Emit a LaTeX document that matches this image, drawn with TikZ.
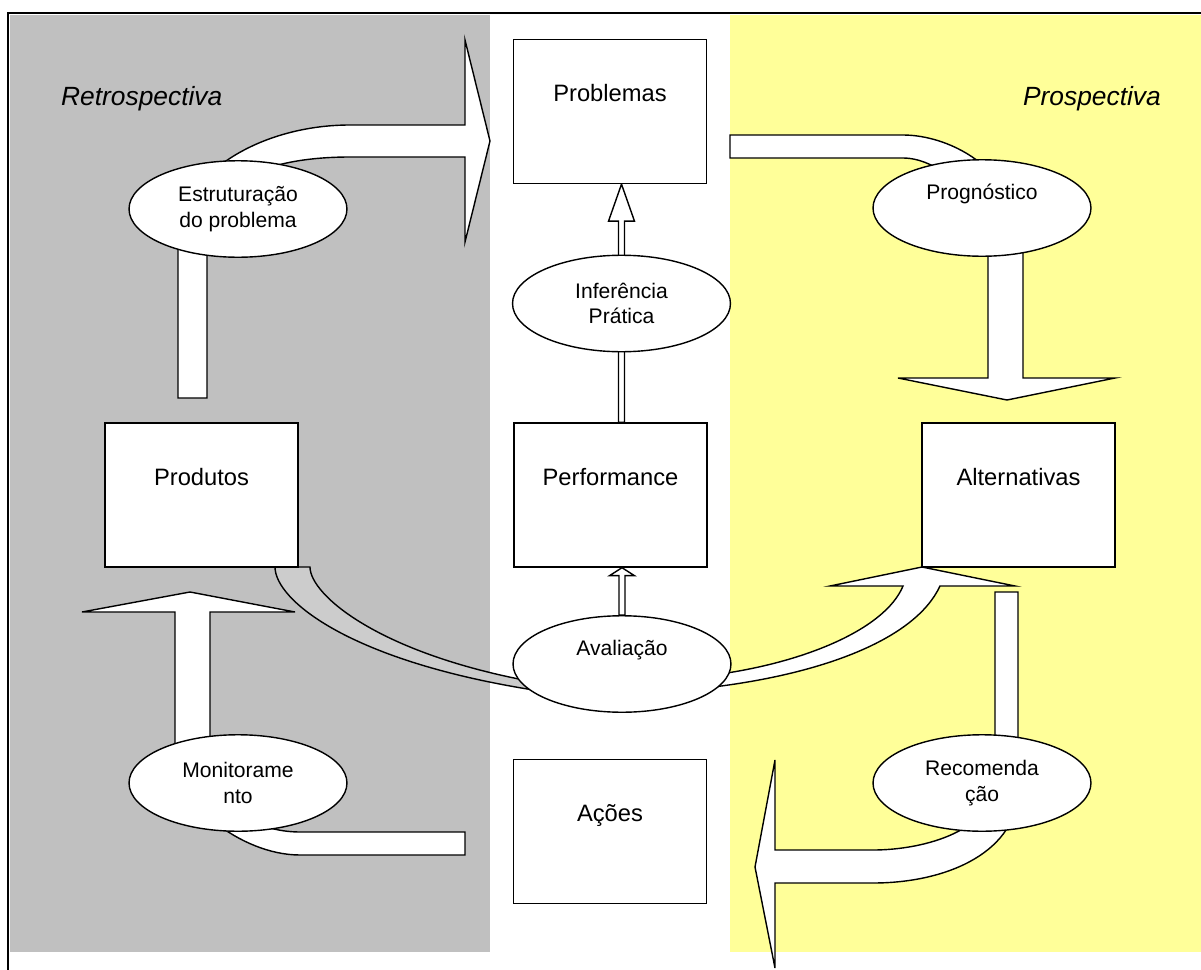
\documentclass[tikz,border=0pt]{standalone}
\usepackage{fontspec}
\setmainfont{Liberation Sans}
\usetikzlibrary{shapes.geometric,calc}
\definecolor{retro}{RGB}{192,192,192}
\definecolor{prosp}{RGB}{255,255,153}
\definecolor{tail}{RGB}{204,204,204}
\pgfdeclarelayer{bg}
\pgfdeclarelayer{flows}
\pgfsetlayers{bg,flows,main}
\tikzset{
  box/.style={draw,fill=white,line width=0.8pt,minimum width=3.86cm,minimum height=2.88cm,
    inner sep=0pt,align=center,font=\fontsize{13.5}{16.2}\selectfont},
  proc/.style={ellipse,draw,fill=white,line width=0.8pt,minimum width=4.36cm,minimum height=1.93cm,
    inner sep=0pt,align=center,font=\fontsize{12}{14.4}\selectfont},
  side/.style={font=\fontsize{15}{18}\selectfont\itshape},
  block/.style={draw,fill=#1,line width=0.8pt,line join=miter},
  block/.default=white,
}
% thin up arrow: from #1 to #2, head length #3, head half width #4
\newcommand{\upflow}[4]{%
  \draw[block] ($(#1)+(-3,0)$) -- ($(#2)+(-3,#3)$) -- ($(#2)+(-#4,#3)$) -- (#2)
    -- ($(#2)+(#4,#3)$) -- ($(#2)+(3,#3)$) -- ($(#1)+(3,0)$) -- cycle;}

\begin{document}
\begin{tikzpicture}[x=0.02cm,y=-0.02cm]
  \useasboundingbox (0,0) rectangle (1201,970);
  \begin{pgfonlayer}{bg}
    \fill[retro] (10,15) rectangle (490,952);
    \fill[prosp] (730,15) rectangle (1201,952);
    \draw[line width=1.1pt] (8,970) -- (8,13) -- (1201,13);
  \end{pgfonlayer}

  \node[side,anchor=west] (retro) at (55,99) {Retrospectiva};
  \node[side,anchor=east] (prosp) at (1167,99) {Prospectiva};

  % boxes
  \node[box] (prob) at (610,111.5) {Problemas\\\strut};
  \node[box] (prod) at (201.5,495) {Produtos\\\strut};
  \node[box] (perf) at (610.5,495) {Performance\\\strut};
  \node[box] (alt) at (1018.5,495) {Alternativas\\\strut};
  \node[box] (acoes) at (610,831.5) {Ações\\\strut};

  % processes
  \node[proc] (estr) at (238,209) {Estruturação\\do problema};
  \node[proc] (prog) at (982,208) {Prognóstico\\\strut};
  \node[proc] (infer) at (621.5,303.5) {Inferência\\Prática};
  \node[proc] (aval) at (622,664) {Avaliação\\\strut};
  \node[proc] (moni) at (238,783) {Monitorame\\nto};
  \node[proc] (reco) at (982,783) {Recomenda\\ção};

  \coordinate (ptop) at (infer.center |- prob.south);
  \coordinate (pbot) at (infer.center |- perf.north);
  \coordinate (qtop) at (aval.center |- perf.south);

  \begin{pgfonlayer}{flows}
    \upflow{pbot}{ptop}{37}{13}
    \upflow{aval.north}{qtop}{8}{12.5}
    % estruturacao -> problemas
    \draw[block] (178,398) -- (178,240) .. controls (178,175) and (260,125) .. (350,125)
      -- (465,125) -- (465,40) -- (490,141) -- (465,242) -- (465,157) -- (350,157)
      .. controls (280,157) and (207,175) .. (207,240) -- (207,398) -- cycle;
    % prognostico -> alternativas
    \draw[block] (730,135) -- (903,135) .. controls (950,135) and (1023,170) .. (1023,255)
      -- (1023,378) -- (1115,378) -- (1007,400) -- (898,378) -- (988,378) -- (988,255)
      .. controls (988,200) and (940,158) .. (903,158) -- (730,158) -- cycle;
    % produtos -> avaliacao
    \draw[block=tail] (275,567) -- (310,567) .. controls (310,595) and (380,655) .. (540,683)
      -- (540,691) .. controls (350,662) and (275,600) .. (275,567) -- cycle;
    % avaliacao -> alternativas
    \draw[block] (705,676) .. controls (800,665) and (885,630) .. (903,586) -- (830,586)
      -- (922,567) -- (1015,586) -- (940,586) .. controls (915,640) and (820,675) .. (705,688) -- cycle;
    % monitoramento -> produtos
    \draw[block] (465,832) -- (300,832) .. controls (255,832) and (210,805) .. (210,760)
      -- (210,612) -- (295,612) -- (190,592) -- (82,612) -- (175,612) -- (175,760)
      .. controls (175,800) and (240,855) .. (300,855) -- (465,855) -- cycle;
    % recomendacao -> acoes
    \draw[block] (995,592) -- (1018,592) -- (1018,790) .. controls (1018,850) and (950,883) .. (873,883)
      -- (775,883) -- (775,968) -- (755,867) -- (775,760) -- (775,850) -- (873,850)
      .. controls (925,850) and (995,830) .. (995,780) -- cycle;
  \end{pgfonlayer}
\end{tikzpicture}
\end{document}
